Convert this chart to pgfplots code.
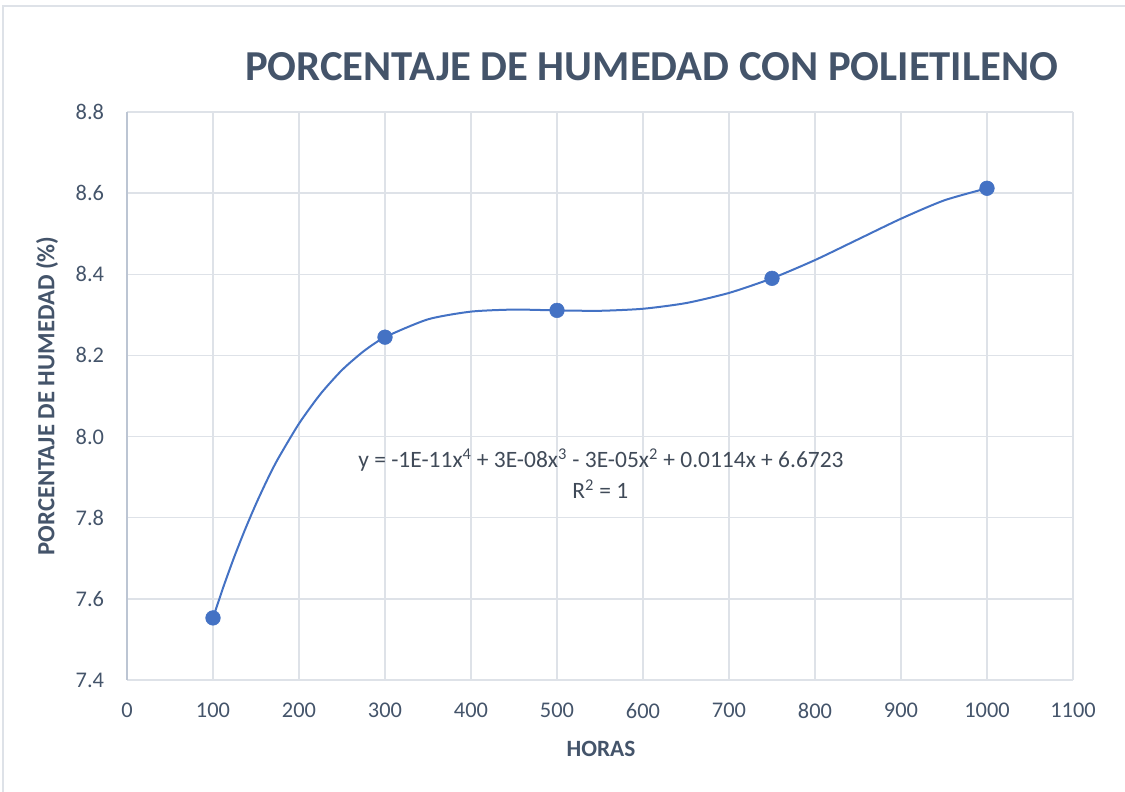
\documentclass[border=0pt]{standalone}
\usepackage{pgfplots}
\pgfplotsset{compat=1.18}
\usepackage{fontspec}
\setmainfont{Carlito}
\definecolor{txt}{HTML}{44546A}
\definecolor{eqc}{HTML}{404A58}
\definecolor{gridc}{HTML}{DEE2E8}
\definecolor{axl}{HTML}{BCC5D3}
\definecolor{ser}{HTML}{4472C4}
\begin{document}
\begin{tikzpicture}[x=1pt,y=1pt]
\path[use as bounding box] (-95.25,-84) rectangle (748.5,510);
\draw[gridc, line width=1.5pt] (-93,-84) -- (-93,505.5) -- (748.5,505.5);
\begin{axis}[at={(0,0)}, anchor=south west, scale only axis,
  width=709.5pt, height=426pt,
  xmin=0, xmax=1100, ymin=7.4, ymax=8.8,
  xtick={0,100,...,1100}, ytick={7.4,7.6,7.8,8.0,8.2,8.4,8.6,8.8},
  grid=major, major grid style={draw=gridc, line width=1pt},
  axis lines=left, axis line style={-},
  x axis line style={draw=gridc, line width=1pt},
  y axis line style={draw=axl, line width=1pt},
  major tick length=0pt,
  /pgf/number format/assume math mode=true,
  /pgf/number format/1000 sep={},
  tick label style={font=\fontsize{16.8}{18}\selectfont, text=txt},
  y tick label style={anchor=east, inner sep=0pt, xshift=-17pt,
    /pgf/number format/.cd, fixed, fixed zerofill, precision=1},
  x tick label style={anchor=north, inner sep=0pt, yshift=-17pt},
  clip=false,
]
\addplot[ser, line width=1.5pt, smooth, tension=0.4] coordinates {
(100,7.553)(112.5,7.632)(125,7.705)(137.5,7.772)(150,7.834)(162.5,7.891)
(175,7.943)(200,8.032)(225,8.105)(250,8.164)(275,8.210)(300,8.245)
(350,8.289)(400,8.308)(450,8.313)(500,8.311)(550,8.310)(600,8.315)
(650,8.329)(700,8.354)(750,8.390)(800,8.435)(850,8.486)(900,8.537)
(950,8.582)(1000,8.612)};
\addplot[only marks, mark=*, mark size=5.5pt, mark options={fill=ser, draw=ser}] coordinates {
(100,7.553)(300,8.245)(500,8.311)(750,8.390)(1000,8.612)};
\end{axis}
\node[text=txt, font=\fontsize{32}{36}\bfseries\selectfont] at (393.5,459.75) {PORCENTAJE DE HUMEDAD CON POLIETILENO};
\node[text=txt, font=\fontsize{18.5}{20}\bfseries\selectfont, rotate=90] at (-60,213) {PORCENTAJE DE HUMEDAD (\%)};
\node[text=txt, font=\fontsize{17.5}{20}\bfseries\selectfont] at (355.5,-52) {HORAS};
\node[text=eqc, font=\fontsize{17.6}{20}\selectfont] at (355.5,165) {y = -1E-11x\textsuperscript{4} + 3E-08x\textsuperscript{3} - 3E-05x\textsuperscript{2} + 0.0114x + 6.6723};
\node[text=eqc, font=\fontsize{17.6}{20}\selectfont] at (355,143.25) {R\textsuperscript{2} = 1};
\end{tikzpicture}
\end{document}
